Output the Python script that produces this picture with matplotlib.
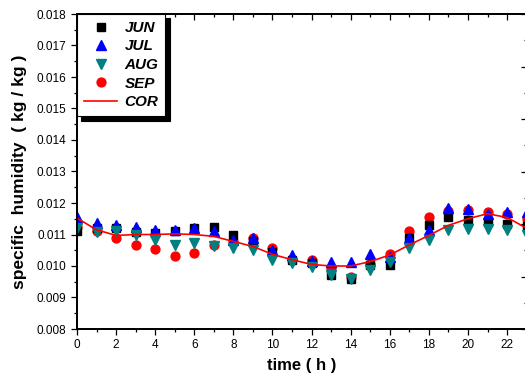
import numpy as np
import matplotlib
matplotlib.use('Agg')
import matplotlib.pyplot as plt
from matplotlib.ticker import MultipleLocator

plt.rcParams['font.family'] = ['Liberation Sans', 'DejaVu Sans']

# ── Data (specific humidity, kg/kg, by hour) ─────────────────────────
hours = list(range(24))
jun = [0.01110, 0.01120, 0.01120, 0.01107, 0.01104, 0.01110, 0.01122, 0.01123,
       0.01100, 0.01078, 0.01046, 0.01020, 0.01009, 0.00973, 0.00960, 0.01003,
       0.01003, 0.01088, 0.01129, 0.01156, 0.01147, 0.01140, 0.01134, 0.01127]
jul = [0.01155, 0.01136, 0.01131, 0.01123, 0.01115, 0.01115, 0.01120, 0.01110,
       0.01083, 0.01088, 0.01050, 0.01035, 0.01016, 0.01014, 0.01014, 0.01037,
       0.01029, 0.01088, 0.01113, 0.01185, 0.01182, 0.01166, 0.01172, 0.01172]
aug = [0.01120, 0.01107, 0.01110, 0.01100, 0.01083, 0.01067, 0.01074, 0.01065,
       0.01058, 0.01050, 0.01020, 0.01009, 0.00998, 0.00973, 0.00959, 0.00987,
       0.01014, 0.01056, 0.01081, 0.01113, 0.01118, 0.01118, 0.01115, 0.01097]
sep = [0.01124, 0.01112, 0.01090, 0.01067, 0.01053, 0.01033, 0.01040, 0.01067,
       0.01080, 0.01090, 0.01056, 0.01020, 0.01020, 0.00993, 0.00964, 0.01005,
       0.01038, 0.01111, 0.01156, 0.01175, 0.01177, 0.01170, 0.01166, 0.01150]
cor = [0.01152, 0.01115, 0.01097, 0.01100, 0.01100, 0.01102, 0.01100, 0.01094,
       0.01078, 0.01062, 0.01037, 0.01020, 0.01005, 0.01000, 0.01000, 0.01014,
       0.01035, 0.01067, 0.01097, 0.01129, 0.01150, 0.01166, 0.01154, 0.01120]

# ── Figure ────────────────────────────────────────────────────────────
fig = plt.figure(figsize=(5.25, 3.8), dpi=100)
ax = fig.add_axes([77/525, 1 - 329/380, (526.6 - 77)/525, (329 - 14)/380])

ms = 7
ax.plot(hours, jun, 's', color='black', ms=ms - 0.8, ls='none', label='JUN', zorder=3)
ax.plot(hours, jul, '^', color='blue', ms=ms, ls='none', label='JUL', zorder=4)
ax.plot(hours, aug, 'v', color='#008080', ms=ms, ls='none', label='AUG', zorder=5)
ax.plot(hours, sep, 'o', color='red', ms=ms - 0.6, ls='none', label='SEP', zorder=2)
ax.plot(hours, cor, '-', color='red', lw=1.2, label='COR', zorder=6)

ax.set_xlim(0, 23)
ax.set_ylim(0.008, 0.018)
ax.xaxis.set_major_locator(MultipleLocator(2))
ax.xaxis.set_minor_locator(MultipleLocator(1))
ax.yaxis.set_major_locator(MultipleLocator(0.001))
ax.yaxis.set_minor_locator(MultipleLocator(0.0005))
ax.yaxis.set_major_formatter(plt.FuncFormatter(lambda v, _: f'{v:.3f}'))

ax.tick_params(axis='both', which='major', labelsize=8.5, length=4.5, width=0.9,
               direction='out', pad=3, top=True, right=False)
ax.tick_params(axis='both', which='minor', length=2.5, width=0.9,
               direction='out', top=True, right=False)

# top ticks point inward
for t in ax.xaxis.get_major_ticks() + ax.xaxis.get_minor_ticks():
    t.tick2line.set_marker(3)

# right side ticks (inward, separate scale)
axr = ax.twinx()
axr.set_ylim(0, 12)
axr.yaxis.set_major_locator(MultipleLocator(2))
axr.yaxis.set_minor_locator(MultipleLocator(1))
axr.tick_params(axis='y', which='major', direction='in', length=4.5, width=0.9, labelright=False)
axr.tick_params(axis='y', which='minor', direction='in', length=2.5, width=0.9)

for s in list(ax.spines.values()) + list(axr.spines.values()):
    s.set_linewidth(1.3)

ax.set_xlabel('time ( h )', fontsize=12, fontweight='bold', labelpad=5)
ax.set_ylabel('specific  humidity  ( kg / kg )', fontsize=12.5, fontweight='bold', labelpad=7)

leg = ax.legend(loc='upper left', borderaxespad=0, fancybox=False,
                shadow={'color': 'black', 'alpha': 1, 'ox': 3.2, 'oy': -3.2},
                prop={'weight': 'bold', 'style': 'italic', 'size': 11},
                handlelength=2.2, handletextpad=0.45, labelspacing=0.3,
                borderpad=0.45, framealpha=1)
leg.get_frame().set_edgecolor('black')
leg.get_frame().set_linewidth(0.8)
leg.set_zorder(10)

fig.savefig('out.png', dpi=100)
